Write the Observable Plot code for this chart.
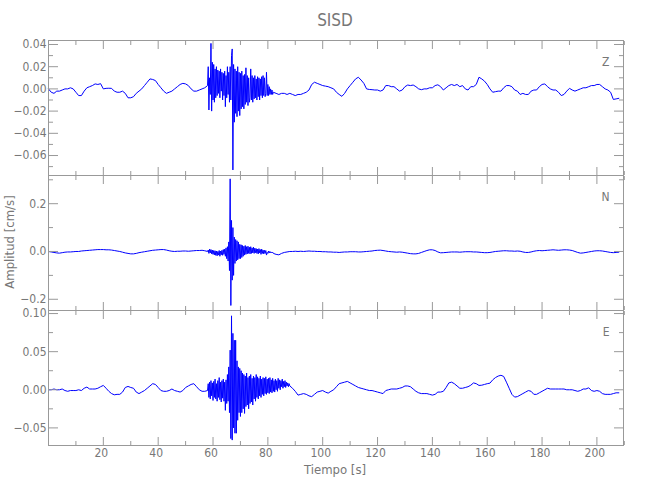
<!DOCTYPE html>
<html><head><meta charset="utf-8">
<script src="https://cdn.jsdelivr.net/npm/d3@7"></script>
<script src="https://cdn.jsdelivr.net/npm/@observablehq/plot@0.6"></script>
<style>
body{margin:0;background:#fff}
#chart{position:relative;width:650px;height:500px;background:#fff;overflow:hidden;
 font-family:"Liberation Sans Narrow","DejaVu Sans Condensed","Arial Narrow",sans-serif;color:#777}
.abs{position:absolute;white-space:nowrap}
</style></head><body><div id="chart"></div>
<script>
// ---- data ----
const title = "SISD";
const xTitle = "Tiempo [s]";
const yTitle = "Amplitud [cm/s]";
const components = ["Z", "N", "E"];
const xDomain = [0, 209.7];
const xMajor = [0, 20, 40, 60, 80, 100, 120, 140, 160, 180, 200];
const xMinor = [10, 30, 50, 70, 90, 110, 130, 150, 170, 190, 210];
const xLabels = [20, 40, 60, 80, 100, 120, 140, 160, 180, 200];

// Z component: 0..57 s every 1 s, 58..82 s every 0.25 s, 83..208 s every 1 s
const zPre = [0.000,-0.003,-0.004,-0.002,-0.002,-0.001,0.000,0.000,0.001,0.000,
-0.003,-0.006,-0.006,-0.002,0.001,0.002,0.003,0.0045,0.004,0.0047,
0.000,0.0005,0.0006,0.0005,-0.002,-0.003,-0.003,-0.002,-0.004,-0.008,
-0.008,-0.007,-0.004,-0.002,0.000,0.003,0.006,0.009,0.0085,0.0075,
0.004,0.001,-0.002,-0.004,-0.003,-0.002,0.000,0.002,0.004,0.005,
0.0045,0.003,0.000,-0.002,-0.002,-0.001,0.000,0.001];
const zBurst = [0.003,0.020,-0.019,0.010,
-0.005,0.041,-0.020,0.024,
-0.010,0.022,-0.012,0.018,
-0.008,0.020,-0.006,0.017,
-0.004,0.016,-0.008,0.018,
-0.002,0.015,-0.010,0.014,
-0.006,0.016,-0.016,0.012,
-0.008,0.020,-0.005,0.015,
-0.012,0.020,-0.010,0.030,
0.036,-0.073,0.022,-0.030,
0.018,-0.022,0.016,-0.025,
0.020,-0.020,0.015,-0.024,
0.014,-0.018,0.016,-0.016,
0.012,-0.018,0.013,-0.014,
0.019,-0.012,0.012,-0.015,
0.010,-0.012,-0.008,0.018,
-0.010,0.012,-0.012,0.010,
-0.009,0.012,-0.008,0.009,
-0.010,0.011,-0.007,0.010,
-0.010,0.009,-0.006,0.011,
-0.008,0.012,-0.006,0.010,
-0.007,-0.004,0.015,-0.006,
0.004,-0.006,0.002,-0.005,
0.000,-0.005,-0.001,-0.005,
-0.003];
const zPost = [-0.004,-0.005,-0.004,-0.004,-0.005,-0.004,-0.005,-0.006,-0.005,-0.005,
-0.004,-0.003,-0.001,0.004,0.006,0.005,0.004,0.003,0.0025,0.002,
0.001,0.000,-0.003,-0.005,-0.0067,-0.004,0.000,0.003,0.006,0.009,
0.0105,0.008,0.005,0.000,-0.0005,-0.0007,-0.001,-0.001,-0.002,-0.001,
0.003,0.003,0.002,0.002,0.000,-0.002,-0.001,0.002,0.0035,0.003,
0.0035,0.002,0.000,-0.0007,0.000,0.000,0.001,0.001,0.003,0.0037,
0.002,-0.001,0.001,0.003,0.004,0.003,0.004,0.002,0.003,0.000,
-0.001,0.002,0.002,0.004,0.0105,0.009,0.007,0.004,0.000,-0.003,
-0.0025,-0.002,-0.002,0.001,0.003,0.003,0.002,-0.001,-0.002,-0.005,
-0.004,-0.005,-0.005,-0.002,-0.001,-0.001,0.002,0.004,0.0045,0.002,
0.000,-0.001,-0.001,-0.003,-0.006,-0.005,-0.002,0.0005,-0.001,-0.002,
-0.001,0.000,0.001,0.001,0.002,0.003,0.003,0.004,0.004,0.002,
0.000,-0.001,-0.003,-0.0095,-0.009,-0.0085];

// N component
const nPre = [0.000,-0.002,-0.004,-0.006,-0.007,-0.005,-0.003,-0.002,-0.002,-0.001,
0.000,0.000,0.002,0.003,0.004,0.005,0.006,0.007,0.008,0.008,
0.008,0.007,0.007,0.006,0.004,0.002,0.000,-0.003,-0.006,-0.008,
-0.010,-0.010,-0.008,-0.005,-0.003,-0.001,0.001,0.003,0.005,0.006,
0.007,0.008,0.008,0.006,0.003,0.001,0.000,0.001,0.001,0.002,
0.002,0.001,0.002,0.003,0.004,0.004,0.005,0.003];
const nBurst = [0.000,0.006,-0.008,0.010,
-0.006,0.008,-0.010,0.006,
-0.012,0.004,-0.014,0.003,
-0.016,0.002,-0.018,0.000,
-0.015,0.004,-0.020,0.002,
-0.014,0.005,-0.016,0.008,
-0.012,0.010,-0.020,0.015,
-0.030,0.020,-0.040,0.040,
-0.080,0.304,-0.226,0.130,
-0.120,0.100,-0.100,0.060,
-0.050,0.050,-0.040,0.045,
-0.035,0.040,-0.030,0.030,
-0.030,0.028,-0.025,0.025,
-0.020,0.022,-0.015,0.025,
-0.012,0.020,-0.010,0.022,
-0.008,0.018,-0.010,0.020,
-0.008,0.015,-0.006,0.018,
-0.008,0.014,-0.005,0.012,
-0.008,0.010,-0.010,0.012,
-0.006,0.008,-0.012,0.010,
-0.008,0.006,-0.010,0.005,
-0.008,0.004,-0.015,-0.004,
-0.008,0.002,-0.006,0.000,
-0.005,-0.002,-0.006,-0.003,
-0.008];
const nPost = [-0.012,-0.014,-0.008,-0.004,-0.002,0.000,0.000,0.001,0.000,0.001,
0.000,0.001,0.002,0.001,0.001,0.000,0.000,-0.001,-0.001,-0.002,
-0.002,-0.003,-0.003,-0.004,-0.003,-0.002,-0.002,-0.001,-0.001,-0.001,
-0.002,-0.002,-0.001,0.000,0.001,0.002,0.004,0.005,0.0056,0.004,
0.002,0.000,-0.001,-0.002,-0.003,-0.002,-0.003,-0.005,-0.007,-0.009,
-0.010,-0.010,-0.008,-0.004,0.000,0.004,0.007,0.007,0.004,-0.002,
-0.0056,-0.005,-0.004,-0.003,-0.002,-0.002,-0.002,-0.003,-0.002,-0.001,
-0.001,-0.001,-0.002,-0.002,-0.003,-0.004,-0.005,-0.005,-0.004,-0.002,
0.000,0.001,0.002,0.003,0.003,0.002,0.002,0.001,0.002,0.001,
-0.002,-0.004,-0.004,-0.002,0.001,0.003,0.004,0.003,0.004,0.005,
0.006,0.007,0.006,0.005,0.006,0.007,0.007,0.006,0.004,0.000,
-0.004,-0.007,-0.006,-0.004,-0.002,0.000,0.002,0.003,0.003,0.002,
0.000,-0.002,-0.004,-0.005,-0.004,-0.003];

// E component: 0..57 every 1 s, 58..88 every 0.25 s, 89..208 every 1 s
const ePre = [0.000,0.000,0.001,0.000,0.000,0.001,-0.001,-0.002,-0.001,-0.001,
-0.001,0.000,-0.001,0.002,0.0035,0.001,0.001,0.001,0.002,0.004,
0.0057,0.002,-0.002,-0.005,-0.0066,-0.006,-0.006,-0.003,0.003,0.0044,
0.003,0.002,-0.003,-0.005,-0.003,-0.001,0.002,0.005,0.008,0.007,
0.003,-0.001,-0.002,-0.002,-0.001,0.001,-0.001,-0.002,-0.003,-0.001,
0.003,0.005,0.007,0.008,0.004,0.000,-0.002,-0.002];
const eBurst = [-0.001,0.008,-0.010,0.010,
-0.012,0.012,-0.008,0.009,
-0.014,0.011,-0.010,0.014,
-0.012,0.008,-0.015,0.012,
-0.010,0.016,-0.013,0.010,
-0.016,0.012,-0.011,0.014,
-0.015,0.010,-0.027,0.013,
-0.018,0.020,-0.015,0.030,
-0.030,0.052,-0.064,0.097,
-0.066,0.074,-0.050,0.065,
-0.057,0.065,-0.057,0.038,
-0.040,0.030,-0.030,0.028,
-0.035,0.025,-0.030,0.022,
-0.025,0.020,-0.031,0.018,
-0.022,0.022,-0.020,0.016,
-0.025,0.018,-0.018,0.020,
-0.016,0.015,-0.020,0.018,
-0.012,0.016,-0.015,0.020,
-0.010,0.017,-0.012,0.015,
-0.008,0.018,-0.010,0.014,
-0.006,0.016,-0.008,0.015,
-0.005,0.017,-0.006,0.014,
-0.004,0.015,-0.005,0.016,
-0.003,0.013,-0.004,0.015,
-0.002,0.012,-0.003,0.014,
0.000,0.012,-0.002,0.015,
0.002,0.013,0.000,0.012,
0.004,0.014,0.002,0.011,
0.004,0.012,0.003,0.010,
0.005,0.009,0.004,0.008,
0.005];
const ePost = [0.002,-0.002,-0.007,-0.006,-0.005,-0.006,-0.008,-0.009,-0.006,-0.003,
-0.002,-0.001,-0.003,-0.0044,-0.002,0.000,0.004,0.008,0.009,0.010,
0.011,0.009,0.007,0.005,0.003,0.002,0.001,0.000,-0.001,-0.001,
-0.002,-0.003,-0.004,-0.005,-0.001,0.000,0.001,0.001,0.001,0.002,
0.003,0.005,0.005,0.004,0.001,-0.002,-0.004,-0.005,-0.005,-0.005,
-0.006,-0.007,-0.006,-0.003,-0.003,-0.002,0.003,0.009,0.010,0.008,
0.005,0.002,0.002,0.003,0.004,0.006,0.009,0.008,0.0057,0.006,
0.007,0.008,0.0087,0.013,0.016,0.018,0.019,0.0175,0.010,0.002,
-0.006,-0.0096,-0.009,-0.007,-0.005,-0.003,-0.001,-0.002,-0.006,-0.006,
-0.004,-0.002,0.000,0.002,0.001,0.001,0.001,0.001,0.001,0.001,
0.000,0.000,0.000,-0.001,-0.002,-0.001,0.001,0.001,0.0026,-0.001,
-0.002,-0.001,-0.002,-0.005,-0.006,-0.006,-0.006,-0.005,-0.004,-0.004];

// segment start times / sampling steps
const zSegments = [[0, 1, zPre], [58, 0.25, zBurst], [83, 1, zPost]];
const nSegments = [[0, 1, nPre], [58, 0.25, nBurst], [83, 1, nPost]];
const eSegments = [[0, 1, ePre], [58, 0.25, eBurst], [89, 1, ePost]];

const zDomain = [-0.078, 0.0436];
const nDomain = [-0.247, 0.318];
const eDomain = [-0.0731, 0.104];
const zMajor = [-0.06, -0.04, -0.02, 0, 0.02, 0.04];
const zMinor = [-0.07, -0.05, -0.03, -0.01, 0.01, 0.03];
const nMajor = [-0.2, 0, 0.2];
const nMinor = [-0.1, 0.1, 0.3];
const eMajor = [-0.05, 0, 0.05, 0.1];
const eMinor = [-0.025, 0.025, 0.075];

// ---- drawing ----
const FONT = '"Liberation Sans Narrow","DejaVu Sans Condensed","Arial Narrow",sans-serif';
const TEXT = "#777";
const AXIS = "#999";
const BLUE = "#0000ff";

function rows(segs) {
  const out = [];
  for (const [t0, dt, vals] of segs) vals.forEach((v, i) => out.push({t: t0 + i * dt, v}));
  return out;
}

function panel(o) {
  const tickOpts = {fill: "none", stroke: AXIS, label: null};
  const marks = [
    Plot.line(rows(o.segs), {x: "t", y: "v", stroke: BLUE, strokeWidth: 1}),
    Plot.frame({stroke: AXIS}),
    Plot.axisY(o.major, {anchor: "left", tickSize: -10, ...tickOpts}),
    Plot.axisY(o.minor, {anchor: "left", tickSize: -5, ...tickOpts}),
    Plot.axisY(o.major, {anchor: "right", tickSize: -10, ...tickOpts}),
    Plot.axisY(o.minor, {anchor: "right", tickSize: -5, ...tickOpts}),
    Plot.axisX(xMajor, {anchor: "top", tickSize: -8, ...tickOpts}),
    Plot.axisX(xMinor, {anchor: "top", tickSize: -4, ...tickOpts}),
    Plot.axisX(xMajor, {anchor: "bottom", tickSize: -8, ...tickOpts}),
    Plot.axisX(xMinor, {anchor: "bottom", tickSize: -4, ...tickOpts}),
    Plot.axisY(o.major, {anchor: "left", tickSize: 0, tickPadding: 2, tickFormat: o.fmt,
      fill: TEXT, label: null, fontSize: 12}),
    Plot.text([o.letter], {frameAnchor: "top-right", dx: -14, dy: 22, textAnchor: "end",
      lineAnchor: "middle", fill: TEXT, fontSize: 12})
  ];
  if (o.showX) marks.push(Plot.axisX(xLabels, {anchor: "bottom", tickSize: 0, tickPadding: 3,
    fill: TEXT, label: null, fontSize: 12, dx: -2, tickFormat: d => String(d)}));
  const svg = Plot.plot({
    width: 650, height: o.height,
    marginLeft: 48, marginRight: 27, marginTop: o.mt, marginBottom: o.mb,
    x: {domain: xDomain},
    y: {domain: o.domain},
    style: {background: "transparent", overflow: "visible", fontFamily: FONT, color: TEXT},
    marks
  });
  svg.style.position = "absolute";
  svg.style.left = "0px";
  svg.style.top = o.top + "px";
  return svg;
}

const chart = document.getElementById("chart");
chart.appendChild(panel({segs: zSegments, domain: zDomain, major: zMajor, minor: zMinor,
  fmt: d3.format(".2f"), letter: components[0], top: 0, height: 185, mt: 40, mb: 10}));
chart.appendChild(panel({segs: nSegments, domain: nDomain, major: nMajor, minor: nMinor,
  fmt: d3.format(".1f"), letter: components[1], top: 165, height: 155, mt: 10, mb: 10}));
chart.appendChild(panel({segs: eSegments, domain: eDomain, major: eMajor, minor: eMinor,
  fmt: d3.format(".2f"), letter: components[2], top: 300, height: 200, mt: 10, mb: 55, showX: true}));

function addText(txt, css) {
  const d = document.createElement("div");
  d.className = "abs";
  d.textContent = txt;
  Object.assign(d.style, css);
  chart.appendChild(d);
}
addText(title, {left: "335px", top: "20px", transform: "translate(-50%,-50%)", fontSize: "17px"});
addText(xTitle, {left: "335px", top: "469px", transform: "translate(-50%,-50%)", fontSize: "13px"});
addText(yTitle, {left: "9px", top: "242px", transform: "translate(-50%,-50%) rotate(-90deg)", fontSize: "13px"});
</script></body></html>
